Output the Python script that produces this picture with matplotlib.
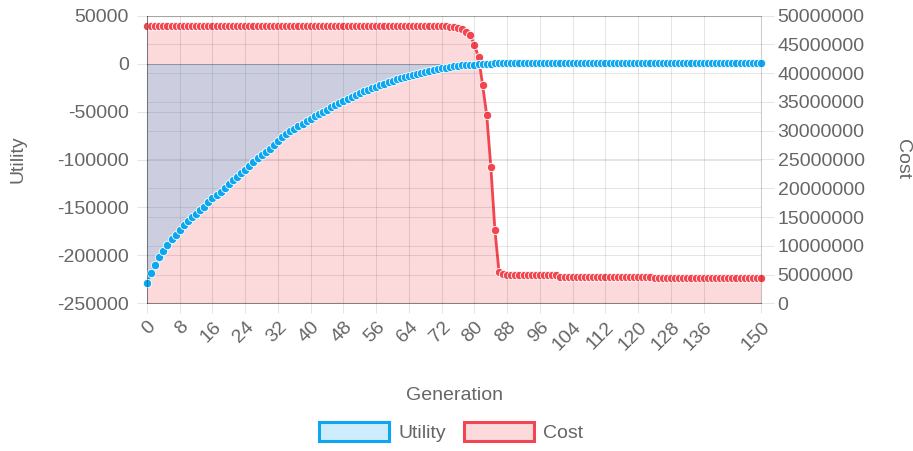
import matplotlib
matplotlib.use('Agg')
import matplotlib.pyplot as plt
from matplotlib.patches import Patch

# generations (category axis) and which of them get a tick label
generations = list(range(151))
tick_gens = [0, 8, 16, 24, 32, 40, 48, 56, 64, 72, 80, 88, 96, 104, 112, 120, 128, 136, 150]
tick_labels = [str(g) for g in tick_gens]

utility = [
    -228400, -218400, -209600, -201800, -195000, -188800, -183000, -178400, -173900, -168800,
    -163800, -160100, -156500, -152800, -149100, -144700, -140300, -136800, -133500, -129300,
    -125200, -121500, -117900, -114200, -110600, -106400, -102200, -98600, -94900, -91800,
    -88700, -84500, -80300, -76900, -73500, -70600, -67800, -65200, -62600, -60000,
    -57400, -55000, -52700, -50300, -48000, -45400, -42800, -40700, -38600, -36500,
    -34400, -32500, -30800, -28900, -27100, -25600, -24000, -22400, -20900, -19300,
    -17700, -16200, -14600, -13600, -12500, -11500, -10400, -9400, -8300, -7300,
    -6300, -5400, -4700, -4100, -3500, -2900, -2300, -1900, -1600, -1300,
    -1000, -700, -500, -200, 0, 300, 600, 600, 600, 600,
    600, 600, 600, 600, 600, 600, 600, 600, 600, 600,
    600, 600, 600, 600, 600, 600, 600, 600, 600, 600,
    600, 600, 600, 600, 600, 600, 600, 600, 600, 600,
    600, 600, 600, 600, 600, 600, 600, 600, 600, 600,
    600, 600, 600, 600, 600, 600, 600, 600, 600, 600,
    600, 600, 600, 600, 600, 600, 600, 600, 600, 600,
    600,
]

cost = [
    48200000, 48200000, 48200000, 48200000, 48200000, 48200000, 48200000, 48200000, 48200000, 48200000,
    48200000, 48200000, 48200000, 48200000, 48200000, 48200000, 48200000, 48200000, 48200000, 48200000,
    48200000, 48200000, 48200000, 48200000, 48200000, 48200000, 48200000, 48200000, 48200000, 48200000,
    48200000, 48200000, 48200000, 48200000, 48200000, 48200000, 48200000, 48200000, 48200000, 48200000,
    48200000, 48200000, 48200000, 48200000, 48200000, 48200000, 48200000, 48200000, 48200000, 48200000,
    48200000, 48200000, 48200000, 48200000, 48200000, 48200000, 48200000, 48200000, 48200000, 48200000,
    48200000, 48200000, 48200000, 48200000, 48200000, 48200000, 48200000, 48200000, 48200000, 48200000,
    48200000, 48200000, 48200000, 48200000, 48100000, 48000000, 47900000, 47700000, 47250000, 46600000,
    44900000, 42800000, 37900000, 32700000, 23700000, 12700000, 5400000, 5100000, 4900000, 4900000,
    4900000, 4900000, 4900000, 4900000, 4900000, 4900000, 4900000, 4900000, 4900000, 4900000,
    4900000, 4600000, 4600000, 4600000, 4600000, 4600000, 4600000, 4600000, 4600000, 4600000,
    4600000, 4600000, 4600000, 4600000, 4600000, 4600000, 4600000, 4600000, 4600000, 4600000,
    4600000, 4600000, 4600000, 4600000, 4450000, 4450000, 4450000, 4450000, 4450000, 4450000,
    4450000, 4450000, 4450000, 4450000, 4450000, 4450000, 4450000, 4450000, 4450000, 4450000,
    4450000, 4450000, 4450000, 4450000, 4450000, 4450000, 4450000, 4450000, 4450000, 4450000,
    4450000,
]

utility_ticks = [-250000, -200000, -150000, -100000, -50000, 0, 50000]
cost_ticks = [0, 5000000, 10000000, 15000000, 20000000, 25000000,
              30000000, 35000000, 40000000, 45000000, 50000000]

blue = (0.05, 0.65, 0.94)
red = (0.95, 0.27, 0.31)
grey_text = '#666666'
grid_rgba = (0, 0, 0, 0.1)

plt.rcParams['font.family'] = ['Liberation Sans', 'DejaVu Sans']
fs = 14

W, H = 913, 451
fig = plt.figure(figsize=(W / 100, H / 100), dpi=100)
ax = fig.add_axes([147 / W, 1 - 303.3 / H, (761 - 147) / W, (303.3 - 15.7) / H])
ax2 = ax.twinx()
ax.set_zorder(ax2.get_zorder() + 1)
ax.patch.set_visible(False)

# cost on the right axis, drawn underneath
ax2.fill_between(generations, cost, 0, color=red, alpha=0.2, lw=0)
ax2.plot(generations, cost, color=red, lw=2, marker='o', ms=6,
         mfc=red, mec='white', mew=0.6, clip_on=False)

# utility on the left axis, on top
ax.fill_between(generations, utility, 0, color=blue, alpha=0.2, lw=0)
ax.plot(generations, utility, color=blue, lw=2, marker='o', ms=6,
        mfc=blue, mec='white', mew=0.6, clip_on=False)

ax.set_xlim(0, 150)
ax.set_ylim(-250000, 50000)
ax2.set_ylim(0, 50000000)

ax.set_xticks(tick_gens)
ax.set_xticklabels(tick_labels, rotation=45, ha='right', rotation_mode='anchor')
ax.set_yticks(utility_ticks)
ax.set_yticklabels([str(v) for v in utility_ticks])
ax2.set_yticks(cost_ticks)
ax2.set_yticklabels([str(v) for v in cost_ticks])

ax.set_axisbelow(True)
ax2.set_axisbelow(True)
ax.grid(True, color='black', alpha=0.1, lw=0.75)
ax2.grid(True, axis='y', color='black', alpha=0.1, lw=0.75)
ax2.grid(False, axis='x')
ax.axhline(0, color=(0, 0, 0, 0.25), lw=0.75, zorder=0.5)

for a in (ax, ax2):
    for side in ('top', 'right'):
        a.spines[side].set_color(grid_rgba)
    for side in ('left', 'bottom'):
        a.spines[side].set_color((0, 0, 0, 0.25))
    for side in a.spines:
        a.spines[side].set_linewidth(0.75)

ax.tick_params(axis='y', length=7, color=grid_rgba, labelcolor=grey_text, labelsize=fs, pad=6)
ax.tick_params(axis='x', length=7, color=grid_rgba, labelcolor=grey_text, labelsize=fs, pad=4)
ax2.tick_params(axis='y', length=9, color=grid_rgba, labelcolor=grey_text, labelsize=fs, pad=3)

ax.set_xlabel('Generation', fontsize=fs, color=grey_text, va='center')
ax.xaxis.set_label_coords(0.5, (303.3 - 395) / 287.6)
ax.set_ylabel('Utility', fontsize=fs, color=grey_text, va='center')
ax.yaxis.set_label_coords((17.5 - 147) / 614, 0.5)
ax2.set_ylabel('Cost', fontsize=fs, color=grey_text, rotation=-90, va='center')
ax2.yaxis.set_label_coords((902 - 147) / 614, 0.5)

handles = [
    Patch(facecolor=blue + (0.2,), edgecolor=blue, lw=2.2, label='Utility'),
    Patch(facecolor=red + (0.2,), edgecolor=red, lw=2.2, label='Cost'),
]
fig.legend(handles=handles, loc='center', bbox_to_anchor=(451 / W, 1 - 432 / H),
           ncol=2, frameon=False, fontsize=fs, labelcolor=grey_text,
           handlelength=3.6, handleheight=1.1, handletextpad=0.5, columnspacing=0.9)

fig.savefig('out.png', dpi=100)
